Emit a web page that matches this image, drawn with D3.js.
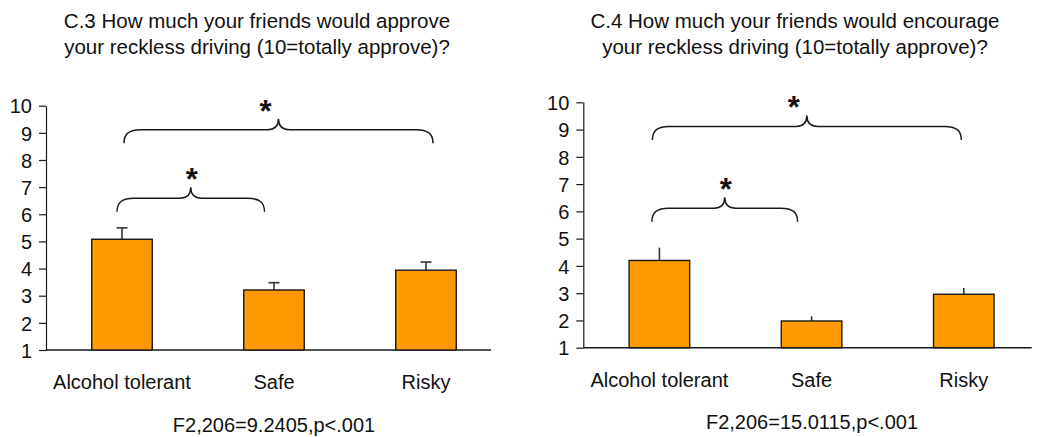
<!DOCTYPE html>
<html>
<head>
<meta charset="utf-8">
<script src="https://cdn.jsdelivr.net/npm/d3@7"></script>
<style>
  html, body { margin: 0; padding: 0; background: #fff; }
  svg { display: block; }
  text { font-family: "Liberation Sans", Arial, sans-serif; fill: #111; }
</style>
</head>
<body>
<svg id="chart" width="1038" height="437"></svg>
<script>
// ---- data ----
const categories = ["Alcohol tolerant", "Safe", "Risky"];
const yTicks = [1, 2, 3, 4, 5, 6, 7, 8, 9, 10];

const approveTitle = ["C.3 How much your friends would approve", "your reckless driving (10=totally approve)?"];
const approveMeans = [5.08, 3.21, 3.94];
const approveErrTop = [5.5, 3.48, 4.24];
const approveStat = "F2,206=9.2405,p<.001";
const approveBraces = [
  { from: 0, to: 1, base: 6.09 },
  { from: 0, to: 2, base: 8.62 }
];

const encourageTitle = ["C.4 How much your friends would encourage", "your reckless driving (10=totally approve)?"];
const encourageMeans = [4.20, 1.98, 2.96];
const encourageErrTop = [4.67, 2.15, 3.19];
const encourageStat = "F2,206=15.0115,p<.001";
const encourageBraces = [
  { from: 0, to: 1, base: 5.62 },
  { from: 0, to: 2, base: 8.62 }
];

// ---- layout (positions / styles) ----
const panels = [
  {
    title: approveTitle, means: approveMeans, errTop: approveErrTop, stat: approveStat, braces: approveBraces,
    axisX: 46, axisEnd: 491, yTop: 105.7, yBottom: 350, bandWidthTotal: 456,
    titleX: 257, titleY: [28, 54], catY: 389, statX: 274, statY: 432, cap: true,
    braceDx: [[-5, -9.5], [2, 7]], starDx: [1, -13]
  },
  {
    title: encourageTitle, means: encourageMeans, errTop: encourageErrTop, stat: encourageStat, braces: encourageBraces,
    axisX: 583.3, axisEnd: 1031.7, yTop: 102.3, yBottom: 347.7, bandWidthTotal: 456.6,
    titleX: 795, titleY: [28, 54], catY: 386.7, statX: 812, statY: 429.3, cap: false,
    braceDx: [[-7.5, -14], [-7, -2.5]], starDx: [1, -13]
  }
];

const svg = d3.select("#chart");
const ink = "#1a1a1a";

panels.forEach(p => {
  const g = svg.append("g");
  const x = d3.scaleBand().domain(categories)
    .range([p.axisX, p.axisX + p.bandWidthTotal])
    .paddingInner(0.602).paddingOuter(0.301);
  const y = d3.scaleLinear().domain([1, 10]).range([p.yBottom, p.yTop]);

  // title
  g.append("text").attr("x", p.titleX).attr("text-anchor", "middle")
    .style("font-size", "20.5px")
    .selectAll("tspan").data(p.title).join("tspan")
    .attr("x", p.titleX).attr("y", (d, i) => p.titleY[i]).text(d => d);

  // y axis
  const yAxis = d3.axisLeft(y).tickValues(yTicks).tickSize(7).tickPadding(7).tickSizeOuter(0);
  const ya = g.append("g").attr("transform", `translate(${p.axisX},0)`).call(yAxis);
  ya.attr("font-size", null).attr("font-family", null);
  ya.select(".domain").attr("stroke", ink).attr("stroke-width", 1.2);
  ya.selectAll(".tick line").attr("stroke", ink).attr("stroke-width", 1.2);
  ya.selectAll(".tick text").style("font-size", "20px").style("font-family", '"Liberation Sans", Arial, sans-serif')
    .attr("fill", "#111").attr("dy", "0.36em");

  // x baseline
  g.append("line").attr("x1", p.axisX).attr("x2", p.axisEnd)
    .attr("y1", y(1)).attr("y2", y(1)).attr("stroke", ink).attr("stroke-width", 1.4);

  // error bars
  const cx = d => x(d) + x.bandwidth() / 2;
  g.selectAll(".err").data(categories).join("line")
    .attr("x1", d => cx(d)).attr("x2", d => cx(d))
    .attr("y1", (d, i) => y(p.means[i])).attr("y2", (d, i) => y(p.errTop[i]))
    .attr("stroke", "#333").attr("stroke-width", 1.6);
  if (p.cap) {
    g.selectAll(".cap").data(categories).join("line")
      .attr("x1", d => cx(d) - 5.5).attr("x2", d => cx(d) + 5.5)
      .attr("y1", (d, i) => y(p.errTop[i])).attr("y2", (d, i) => y(p.errTop[i]))
      .attr("stroke", "#333").attr("stroke-width", 1.6);
  }

  // bars
  g.selectAll(".bar").data(categories).join("rect")
    .attr("x", d => x(d)).attr("width", x.bandwidth())
    .attr("y", (d, i) => y(p.means[i])).attr("height", (d, i) => y(1) - y(p.means[i]))
    .attr("fill", "#FF9900").attr("stroke", ink).attr("stroke-width", 1.4);

  // category labels
  g.selectAll(".cat").data(categories).join("text")
    .attr("x", d => cx(d)).attr("y", p.catY).attr("text-anchor", "middle")
    .style("font-size", "20px").text(d => d);

  // stat
  g.append("text").attr("x", p.statX).attr("y", p.statY).attr("text-anchor", "middle")
    .style("font-size", "20px").text(p.stat);

  // braces
  p.braces.forEach((b, i) => {
    const x1 = cx(categories[b.from]) + p.braceDx[i][0];
    const x2 = cx(categories[b.to]) + p.braceDx[i][1];
    const yb = y(b.base);
    const yl = yb - 13.5;
    const yp = yl - 11;
    const xm = (x1 + x2) / 2;
    const r = 17, m = 11;
    const path = d3.path();
    path.moveTo(x1, yb);
    path.bezierCurveTo(x1, yl + 4, x1 + 5, yl, x1 + r, yl);
    path.lineTo(xm - m, yl);
    path.bezierCurveTo(xm - 4, yl, xm, yl - 3, xm, yp);
    path.bezierCurveTo(xm, yl - 3, xm + 4, yl, xm + m, yl);
    path.lineTo(x2 - r, yl);
    path.bezierCurveTo(x2 - 5, yl, x2, yl + 4, x2, yb);
    g.append("path").attr("d", path.toString()).attr("fill", "none")
      .attr("stroke", ink).attr("stroke-width", 1.5);
    g.append("text").attr("x", xm + p.starDx[i]).attr("y", yp + 3)
      .attr("text-anchor", "middle").style("font-size", "31px").style("font-weight", "bold")
      .text("*");
  });
});
</script>
</body>
</html>
